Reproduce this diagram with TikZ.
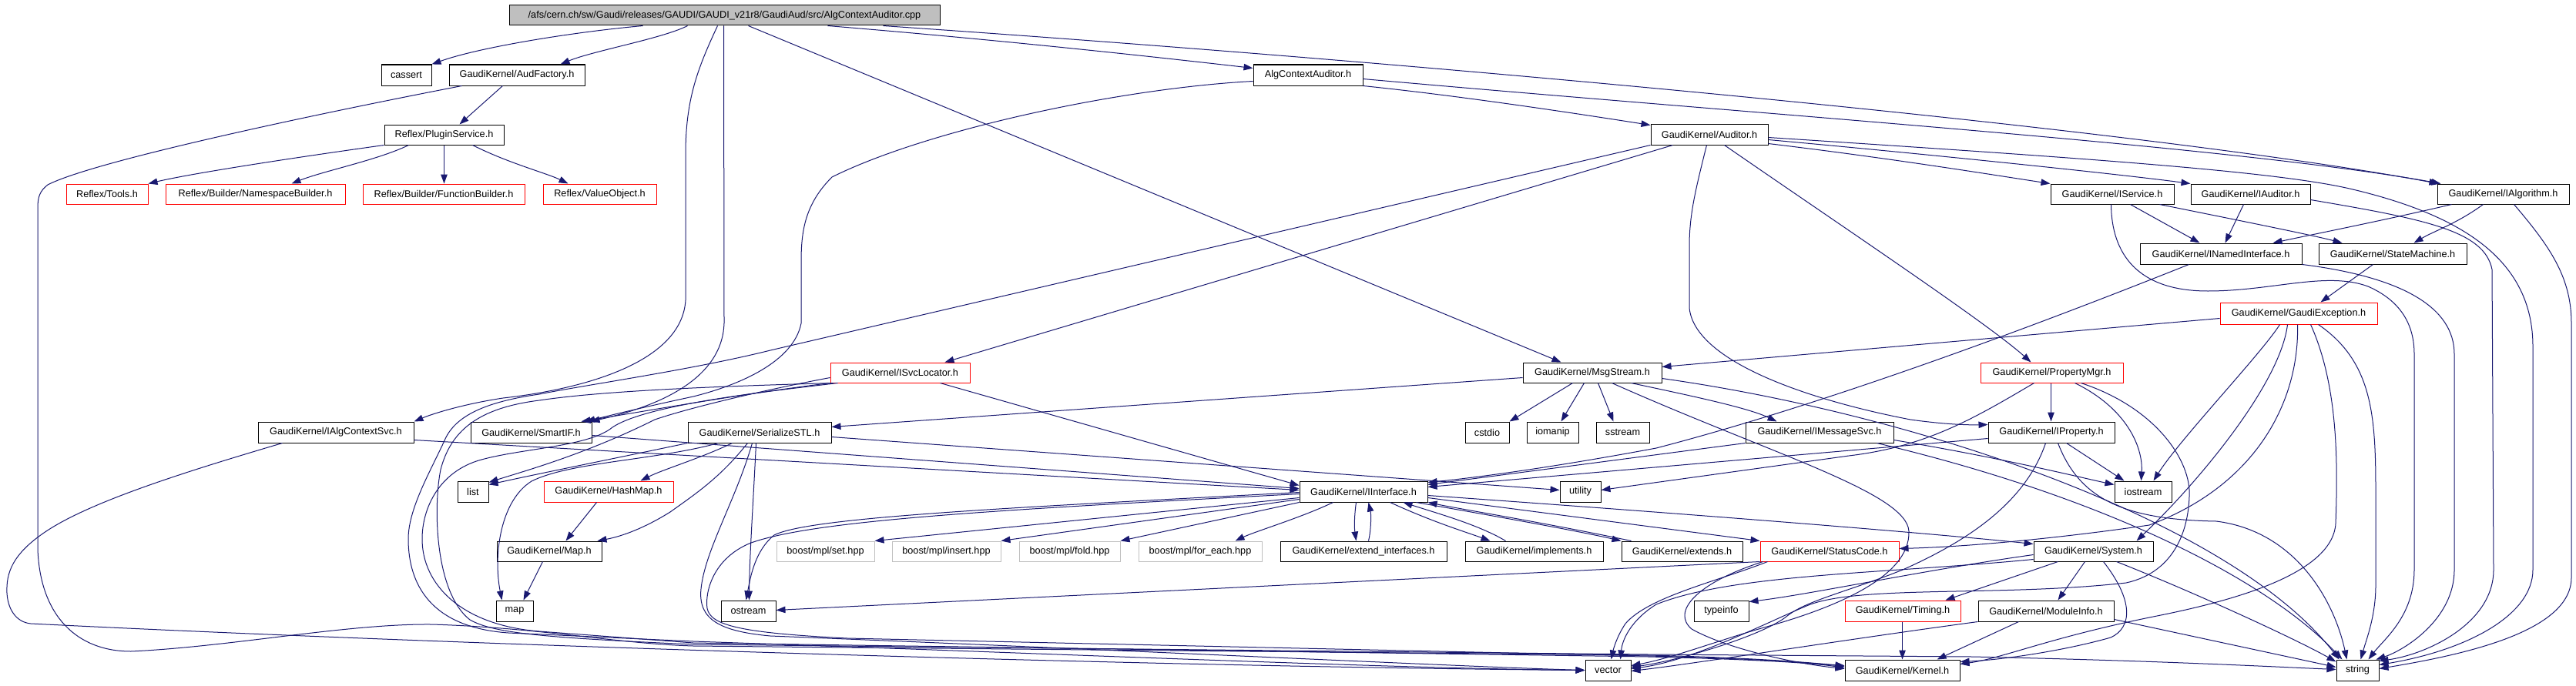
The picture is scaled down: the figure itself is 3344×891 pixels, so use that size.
\documentclass[tikz,border=0pt]{standalone}
\usepackage{fontspec}
\setmainfont{Liberation Sans}
\usetikzlibrary{arrows.meta,calc}
\definecolor{edgec}{HTML}{191970}
\definecolor{greyb}{HTML}{BFBFBF}
\newcommand\nd[7][]{%
 \pgfmathsetmacro\ndw{#4-#3}\pgfmathsetmacro\ndh{#6-#5}%
 \pgfmathsetmacro\ndx{(#3+#4)/2}\pgfmathsetmacro\ndy{(#5+#6)/2}%
 \node[nbox,#1,minimum width=\ndw pt,minimum height=\ndh pt] (#2) at (\ndx,\ndy) {#7};}
\begin{document}
\begin{tikzpicture}[x=1pt,y=-1pt,
 nbox/.style={draw=black,line width=1pt,inner sep=0pt,font=\fontsize{12.7}{15}\selectfont,text=black},
 nred/.style={draw=red},
 ngray/.style={draw=greyb},
 nmain/.style={fill=greyb},
 edg/.style={draw=edgec,line width=1pt,-{Triangle[length=12pt,width=8.5pt]}}]
\fill[white] (0,0) rectangle (3344,891);
\useasboundingbox (0,0) rectangle (3344,891);

\nd[nmain]{main}{661}{1220}{7}{33}{/afs/cern.ch/sw/Gaudi/releases/GAUDI/GAUDI\_v21r8/GaudiAud/src/AlgContextAuditor.cpp}
\nd{cassert}{495}{560}{84}{111}{cassert}
\nd{audf}{583}{759}{84}{111}{GaudiKernel/AudFactory.h}
\nd{acah}{1627}{1769}{84}{111}{AlgContextAuditor.h}
\nd{plugin}{499}{654}{162}{188}{Reflex/PluginService.h}
\nd{auditor}{2143}{2295}{161}{188}{GaudiKernel/Auditor.h}
\nd[nred]{tools}{86}{192}{239}{265}{Reflex/Tools.h}
\nd[nred]{nsb}{215}{448}{239}{265}{Reflex/Builder/NamespaceBuilder.h}
\nd[nred]{fnb}{471}{681}{239}{265}{Reflex/Builder/FunctionBuilder.h}
\nd[nred]{vobj}{705}{852}{239}{265}{Reflex/ValueObject.h}
\nd{isvc}{2662}{2822}{239}{265}{GaudiKernel/IService.h}
\nd{iaud}{2844}{2999}{239}{265}{GaudiKernel/IAuditor.h}
\nd{ialg}{3164}{3335}{239}{265}{GaudiKernel/IAlgorithm.h}
\nd{inamed}{2778}{2988}{316}{343}{GaudiKernel/INamedInterface.h}
\nd{statem}{3010}{3202}{316}{343}{GaudiKernel/StateMachine.h}
\nd[nred]{gexc}{2882}{3086}{393}{421}{GaudiKernel/GaudiException.h}
\nd[nred]{isvcloc}{1078}{1259}{471}{497}{GaudiKernel/ISvcLocator.h}
\nd{msgs}{1977}{2157}{471}{497}{GaudiKernel/MsgStream.h}
\nd[nred]{propmgr}{2571}{2756}{471}{497}{GaudiKernel/PropertyMgr.h}
\nd{iacs}{335}{537}{548}{575}{GaudiKernel/IAlgContextSvc.h}
\nd{smartif}{611}{768}{548}{575}{GaudiKernel/SmartIF.h}
\nd{serial}{893}{1079}{548}{575}{GaudiKernel/SerializeSTL.h}
\nd{cstdio}{1902}{1959}{548}{575}{cstdio}
\nd{iomanip}{1982}{2049}{548}{575}{iomanip}
\nd{sstream}{2072}{2141}{548}{575}{sstream}
\nd{imsg}{2266}{2458}{548}{575}{GaudiKernel/IMessageSvc.h}
\nd{iprop}{2581}{2745}{548}{575}{GaudiKernel/IProperty.h}
\nd{list}{594}{634}{625}{652}{list}
\nd[nred]{hashmap}{706}{874}{625}{652}{GaudiKernel/HashMap.h}
\nd{iint}{1687}{1853}{625}{652}{GaudiKernel/IInterface.h}
\nd{utility}{2025}{2078}{625}{652}{utility}
\nd{iostream}{2745}{2819}{625}{652}{iostream}
\nd{mapH}{645}{781}{703}{729}{GaudiKernel/Map.h}
\nd[ngray]{mset}{1008}{1135}{703}{729}{boost/mpl/set.hpp}
\nd[ngray]{mins}{1158}{1299}{703}{729}{boost/mpl/insert.hpp}
\nd[ngray]{mfold}{1323}{1454}{703}{729}{boost/mpl/fold.hpp}
\nd[ngray]{mfe}{1478}{1638}{703}{729}{boost/mpl/for\_each.hpp}
\nd{extif}{1662}{1878}{703}{729}{GaudiKernel/extend\_interfaces.h}
\nd{impl}{1902}{2081}{703}{729}{GaudiKernel/implements.h}
\nd{exts}{2105}{2262}{703}{729}{GaudiKernel/extends.h}
\nd[nred]{sc}{2285}{2465}{703}{729}{GaudiKernel/StatusCode.h}
\nd{sys}{2640}{2795}{703}{729}{GaudiKernel/System.h}
\nd{map}{644}{692}{780}{807}{map}
\nd{ostream}{936}{1007}{780}{807}{ostream}
\nd{typeinfo}{2199}{2270}{780}{807}{typeinfo}
\nd[nred]{timing}{2395}{2545}{780}{807}{GaudiKernel/Timing.h}
\nd{modinfo}{2568}{2744}{780}{807}{GaudiKernel/ModuleInfo.h}
\nd{vector}{2058}{2117}{857}{884}{vector}
\nd{kernel}{2395}{2544}{857}{884}{GaudiKernel/Kernel.h}
\nd{string}{3033}{3088}{857}{884}{string}

% main
\draw[edg] ($(main.south west)+(174,0)$) .. controls (740,42) and (620,62) .. (cassert.north east);
\draw[edg] ($(main.south west)+(232,0)$) .. controls (860,50) and (770,66) .. ($(audf.north west)+(145,0)$);
\draw[edg] ($(main.south west)+(414,0)$) .. controls (1300,52) and (1500,74) .. ($(acah.north west)+(0,5)$);
\draw[edg] ($(main.south west)+(486,0)$) .. controls (1900,85) and (2800,170) .. ($(ialg.north west)+(2,0)$);
\draw[edg] ($(main.south west)+(311,0)$) -- ($(msgs.north west)+(50,0)$);
\draw[edg] ($(main.south west)+(279,0)$) -- (940,420) .. controls (938,480) and (880,522) .. ($(smartif.north east)+(-2,0)$);
\draw[edg] ($(main.south west)+(271,0)$) .. controls (905,90) and (890,130) .. (890,200) -- (890,390) .. controls (885,470) and (760,505) .. (653,517) .. controls (600,525) and (560,538) .. (iacs.north east);
% audfactory
\draw[edg] ($(audf.south west)+(70,0)$) -- ($(plugin.north west)+(98,0)$);
\draw[edg] ($(audf.south west)+(17,0)$) .. controls (400,150) and (120,210) .. (62,240) .. controls (52,248) and (49,255) .. (49,270) -- (49,713) .. controls (52,800) and (100,846) .. (170,846) .. controls (300,840) and (450,810) .. (560,811) .. controls (700,815) and (800,836) .. (900,839) -- (2140,851) .. controls (2300,855) and (2360,862) .. ($(kernel.north west)+(0,8)$);
% plugin
\draw[edg] (plugin.south west) .. controls (380,205) and (250,225) .. (tools.north east);
\draw[edg] ($(plugin.south west)+(32,0)$) .. controls (490,208) and (420,222) .. ($(nsb.north west)+(164,0)$);
\draw[edg] ($(plugin.south west)+(78,0)$) -- ($(fnb.north west)+(106,0)$);
\draw[edg] ($(plugin.south west)+(115,0)$) .. controls (660,212) and (710,225) .. ($(vobj.north west)+(33,0)$);
% AlgContextAuditor.h
\draw[edg] (acah.south east) .. controls (1900,125) and (2050,148) .. ($(auditor.north west)+(0,2)$);
\draw[edg] ($(acah.north east)+(0,19)$) .. controls (2300,150) and (2900,190) .. ($(ialg.north west)+(5,0)$);
\draw[edg] ($(acah.north west)+(0,22)$) .. controls (1450,115) and (1200,170) .. (1080,230) .. controls (1045,265) and (1040,300) .. (1040,340) -- (1040,420) .. controls (1030,470) and (960,500) .. (900,515) .. controls (830,530) and (790,540) .. ($(smartif.north east)+(-8,0)$);
% Auditor.h
\draw[edg] ($(auditor.north east)+(0,26)$) .. controls (2450,205) and (2580,226) .. (isvc.north west);
\draw[edg] ($(auditor.north east)+(0,21)$) .. controls (2500,200) and (2750,226) .. (iaud.north west);
\draw[edg] ($(auditor.north east)+(0,18)$) .. controls (2700,205) and (2950,222) .. (3050,245) .. controls (3200,280) and (3288,340) .. (3288,450) -- (3288,740) .. controls (3288,800) and (3200,845) .. ($(string.north east)+(0,7)$);
\draw[edg] ($(auditor.south west)+(73,0)$) .. controls (2200,250) and (2193,280) .. (2193,320) -- (2193,400) .. controls (2200,470) and (2350,520) .. (2480,545) .. controls (2530,552) and (2560,552) .. ($(iprop.north west)+(0,4)$);
\draw[edg] ($(auditor.south west)+(96,0)$) .. controls (2400,300) and (2580,420) .. ($(propmgr.north west)+(66,0)$);
\draw[edg] ($(auditor.south west)+(29,0)$) -- ($(isvcloc.north west)+(149,0)$);
\draw[edg] (auditor.south west) -- (1000,455) .. controls (900,480) and (760,500) .. (700,512) .. controls (630,522) and (592,540) .. (578,570) .. controls (560,610) and (530,660) .. (530,700) .. controls (530,760) and (560,815) .. (660,822) -- (900,833) .. controls (1400,850) and (1800,868) .. (vector.west);
% IAlgContextSvc
\draw[edg] ($(iacs.north east)+(0,24)$) -- ($(iint.north west)+(0,12)$);
\draw[edg] ($(iacs.south west)+(32,0)$) .. controls (250,610) and (120,650) .. (60,690) .. controls (15,720) and (8,745) .. (9,770) .. controls (10,790) and (20,808) .. (40,810) .. controls (600,838) and (1500,866) .. (vector.west);
% ISvcLocator
\draw[edg] (isvcloc.south west) .. controls (960,512) and (850,532) .. ($(smartif.north east)+(-14,0)$);
\draw[edg] ($(isvcloc.south west)+(143,0)$) -- ($(iint.north west)+(0,6)$);
\draw[edg] ($(isvcloc.north west)+(0,20)$) .. controls (1000,505) and (900,528) .. (850,545) .. controls (760,590) and (680,612) .. ($(list.north east)+(0,2)$);
\draw[edg] ($(isvcloc.south west)+(10,0)$) .. controls (1000,508) and (840,525) .. (795,555) .. controls (765,580) and (680,582) .. (625,597) .. controls (570,612) and (548,660) .. (548,700) .. controls (548,760) and (600,812) .. (700,820) -- (900,835) -- (2140,853) .. controls (2300,857) and (2360,862) .. ($(kernel.north west)+(0,11)$);
\draw[edg] ($(isvcloc.south west)+(4,0)$) .. controls (920,502) and (780,508) .. (700,520) .. controls (620,530) and (585,560) .. (572,610) .. controls (562,660) and (565,770) .. (610,805) .. controls (640,822) and (700,828) .. (900,837) -- (2140,850) -- (2560,853) .. controls (2800,858) and (2950,866) .. ($(string.north west)+(0,13)$);
% SerializeSTL
\draw[edg] (serial.south west) .. controls (800,595) and (700,615) .. ($(list.north east)+(0,5)$);
\draw[edg] ($(serial.south west)+(58,0)$) .. controls (910,595) and (860,610) .. ($(hashmap.north west)+(126,0)$);
\draw[edg] ($(serial.south west)+(78,0)$) .. controls (935,620) and (905,640) .. (870,665) .. controls (830,690) and (800,698) .. ($(mapH.north east)+(-6,0)$);
\draw[edg] ($(serial.south west)+(40,0)$) .. controls (850,598) and (740,600) .. (690,625) .. controls (650,650) and (640,720) .. ($(map.north west)+(8,0)$);
\draw[edg] ($(serial.south west)+(89,0)$) .. controls (978,650) and (973,720) .. ($(ostream.north west)+(37,0)$);
\draw[edg] ($(serial.south west)+(84,0)$) .. controls (955,650) and (915,715) .. (910,765) .. controls (906,805) and (935,820) .. (1000,826) .. controls (1500,846) and (1900,866) .. (vector.west);
\draw[edg] ($(serial.north east)+(0,20)$) -- ($(utility.north west)+(0,12)$);
% HashMap, Map, SmartIF
\draw[edg] ($(hashmap.south west)+(69,0)$) -- ($(mapH.north west)+(90,0)$);
\draw[edg] ($(mapH.south west)+(60,0)$) -- ($(map.north west)+(36,0)$);
\draw[edg] ($(smartif.north east)+(0,18)$) -- ($(iint.north west)+(0,10)$);
% MsgStream
\draw[edg] ($(msgs.south west)+(65,0)$) -- (cstdio.north east);
\draw[edg] ($(msgs.south west)+(80,0)$) -- ($(iomanip.north west)+(45,0)$);
\draw[edg] ($(msgs.south west)+(98,0)$) -- ($(sstream.north west)+(23,0)$);
\draw[edg] ($(msgs.south west)+(141,0)$) .. controls (2200,515) and (2270,530) .. ($(imsg.north west)+(41,0)$);
\draw[edg] ($(msgs.north west)+(0,20)$) -- ($(serial.north east)+(0,7)$);
\draw[edg] ($(msgs.north east)+(0,21)$) .. controls (2500,540) and (2900,680) .. ($(string.north west)+(4,0)$);
\draw[edg] ($(msgs.south west)+(116,0)$) .. controls (2300,590) and (2475,640) .. (2478,690) .. controls (2480,750) and (2380,790) .. (2290,815) .. controls (2230,832) and (2170,855) .. ($(vector.north east)+(0,8)$);
% IMessageSvc
\draw[edg] (imsg.south west) -- ($(iint.north east)+(0,5)$);
\draw[edg] ($(imsg.north east)+(0,24)$) .. controls (2600,595) and (2700,620) .. ($(iostream.north west)+(0,5)$);
\draw[edg] ($(imsg.south west)+(171,0)$) .. controls (2750,650) and (2950,760) .. ($(string.north west)+(8,0)$);
% IProperty
\draw[edg] ($(iprop.north west)+(0,22)$) -- ($(iint.north east)+(0,8)$);
\draw[edg] ($(iprop.south west)+(102,0)$) -- ($(iostream.north west)+(13,0)$);
\draw[edg] ($(iprop.south west)+(91,0)$) .. controls (2700,650) and (2760,675) .. (2877,677) .. controls (2980,690) and (3030,780) .. ($(string.north west)+(14,0)$);
\draw[edg] ($(iprop.south west)+(75,0)$) .. controls (2630,650) and (2560,700) .. (2470,740) .. controls (2400,768) and (2345,780) .. (2320,800) .. controls (2290,825) and (2180,858) .. ($(vector.north east)+(0,10)$);
% PropertyMgr
\draw[edg] ($(propmgr.south west)+(92,0)$) -- ($(iprop.north west)+(82,0)$);
\draw[edg] ($(propmgr.south west)+(123,0)$) .. controls (2760,530) and (2782,580) .. ($(iostream.north west)+(35,0)$);
\draw[edg] ($(propmgr.south west)+(70,0)$) .. controls (2560,545) and (2500,580) .. (2400,592) -- ($(utility.north east)+(0,12)$);
\draw[edg] ($(propmgr.south west)+(131,0)$) .. controls (2800,530) and (2845,600) .. (2842,645) .. controls (2840,700) and (2815,745) .. (2760,757) .. controls (2600,775) and (2420,760) .. (2350,785) .. controls (2300,805) and (2200,858) .. ($(vector.north east)+(0,12)$);
% INamedInterface
\draw[edg] ($(inamed.south west)+(64,0)$) .. controls (2600,440) and (2350,530) .. (2150,582) .. controls (2000,610) and (1900,622) .. ($(iint.north east)+(0,2)$);
\draw[edg] (inamed.south east) .. controls (3120,360) and (3186,400) .. (3186,460) -- (3186,740) .. controls (3186,805) and (3120,845) .. ($(string.north west)+(52,0)$);
% IService
\draw[edg] ($(isvc.south west)+(104,0)$) -- ($(inamed.north west)+(78,0)$);
\draw[edg] ($(isvc.south west)+(142,0)$) .. controls (2900,285) and (3000,305) .. ($(statem.north west)+(31,0)$);
\draw[edg] ($(isvc.south west)+(79,0)$) .. controls (2741,330) and (2775,378) .. (2866,378) .. controls (2950,378) and (3020,352) .. (3074,372) .. controls (3115,390) and (3134,420) .. (3134,460) -- (3134,740) .. controls (3134,800) and (3095,830) .. ($(string.north west)+(42,0)$);
% IAuditor
\draw[edg] ($(iaud.south west)+(69,0)$) -- ($(inamed.north west)+(111,0)$);
\draw[edg] ($(iaud.north east)+(0,21)$) .. controls (3150,285) and (3225,300) .. (3235,350) -- (3237,740) .. controls (3237,810) and (3150,850) .. ($(string.north east)+(0,2)$);
% IAlgorithm
\draw[edg] ($(ialg.south west)+(19,0)$) .. controls (3100,285) and (3000,305) .. ($(inamed.north west)+(173,0)$);
\draw[edg] ($(ialg.south west)+(60,0)$) .. controls (3190,290) and (3160,300) .. ($(statem.north west)+(124,0)$);
\draw[edg] ($(ialg.south west)+(100,0)$) .. controls (3310,320) and (3338,360) .. (3338,420) -- (3338,750) .. controls (3338,820) and (3200,850) .. ($(string.north east)+(0,12)$);
% StateMachine
\draw[edg] ($(statem.south west)+(71,0)$) -- ($(gexc.north west)+(131,0)$);
% GaudiException
\draw[edg] ($(gexc.north west)+(0,21)$) -- ($(msgs.north east)+(0,6)$);
\draw[edg] ($(gexc.south west)+(78,0)$) .. controls (2935,460) and (2830,570) .. ($(iostream.north east)+(-24,0)$);
\draw[edg] ($(gexc.south west)+(88,0)$) .. controls (2960,500) and (2850,630) .. ($(sys.north west)+(134,0)$);
\draw[edg] ($(gexc.south west)+(101,0)$) .. controls (2985,520) and (2930,630) .. (2790,682) .. controls (2680,698) and (2560,710) .. ($(sc.north east)+(0,10)$);
\draw[edg] ($(gexc.south west)+(118,0)$) .. controls (3035,500) and (3035,600) .. (3032,680) .. controls (3028,745) and (2900,780) .. (2800,800) .. controls (2660,828) and (2600,855) .. ($(kernel.north east)+(0,6)$);
\draw[edg] ($(gexc.south west)+(128,0)$) .. controls (3080,470) and (3084,540) .. (3084,640) -- (3084,760) .. controls (3084,800) and (3072,830) .. ($(string.north west)+(32,0)$);
% IInterface
\draw[edg] ($(iint.south west)+(74,0)$) .. controls (1758,670) and (1758,685) .. ($(extif.north west)+(99,0)$);
\draw[edg] ($(extif.north west)+(115,0)$) .. controls (1780,688) and (1780,668) .. ($(iint.south west)+(90,0)$);
\draw[edg] ($(iint.south west)+(118,0)$) .. controls (1860,678) and (1900,690) .. ($(impl.north west)+(33,0)$);
\draw[edg] ($(impl.north west)+(53,0)$) .. controls (1920,682) and (1870,668) .. ($(iint.south west)+(135,0)$);
\draw[edg] ($(iint.south east)+(-15,0)$) .. controls (1950,672) and (2050,690) .. (exts.north west);
\draw[edg] ($(exts.north west)+(13,0)$) .. controls (2000,678) and (1900,662) .. (iint.south east);
\draw[edg] ($(iint.north east)+(0,22)$) -- (sc.north west);
\draw[edg] ($(iint.north east)+(0,19)$) .. controls (2200,668) and (2500,692) .. ($(sys.north west)+(0,4)$);
\draw[edg] ($(iint.north west)+(0,22)$) -- (mset.north east);
\draw[edg] ($(iint.north west)+(0,24)$) -- (mins.north east);
\draw[edg] (iint.south west) -- (mfold.north east);
\draw[edg] ($(iint.south west)+(44,0)$) .. controls (1690,672) and (1630,690) .. ($(mfe.north west)+(126,0)$);
\draw[edg] ($(iint.north west)+(0,15)$) .. controls (1300,660) and (1050,672) .. (1005,695) .. controls (980,715) and (974,750) .. ($(ostream.north west)+(33,0)$);
\draw[edg] ($(iint.north west)+(0,17)$) .. controls (1300,662) and (1060,675) .. (975,705) .. controls (925,725) and (915,770) .. (918,790) .. controls (922,812) and (960,822) .. (1100,829) -- (2140,852) .. controls (2300,856) and (2360,862) .. ($(kernel.north west)+(0,9)$);
% StatusCode
\draw[edg] (sc.south west) -- ($(ostream.north east)+(0,13)$);
\draw[edg] ($(sc.south west)+(4,0)$) .. controls (2200,758) and (2170,795) .. (2196,817) .. controls (2240,842) and (2330,862) .. ($(kernel.north west)+(0,12)$);
\draw[edg] ($(sc.south west)+(10,0)$) .. controls (2230,755) and (2140,775) .. (2110,810) .. controls (2098,828) and (2094,845) .. ($(vector.north west)+(34,0)$);
% System
\draw[edg] ($(sys.north west)+(0,24)$) .. controls (2450,745) and (2250,745) .. (2150,785) .. controls (2118,805) and (2106,830) .. ($(vector.north west)+(46,0)$);
\draw[edg] ($(sys.north west)+(0,18)$) .. controls (2500,740) and (2350,772) .. ($(typeinfo.north east)+(0,2)$);
\draw[edg] ($(sys.south west)+(32,0)$) -- ($(timing.north east)+(-20,0)$);
\draw[edg] ($(sys.south west)+(67,0)$) -- ($(modinfo.north west)+(104,0)$);
\draw[edg] ($(sys.south west)+(91,0)$) .. controls (2770,780) and (2768,815) .. (2740,828) .. controls (2680,845) and (2600,857) .. ($(kernel.north east)+(0,3)$);
\draw[edg] ($(sys.south west)+(108,0)$) .. controls (2850,770) and (2980,830) .. ($(string.north west)+(0,3)$);
% ModuleInfo, Timing
\draw[edg] ($(modinfo.south west)+(53,0)$) -- ($(kernel.north east)+(-30,0)$);
\draw[edg] ($(modinfo.north east)+(0,25)$) -- ($(string.north west)+(0,10)$);
\draw[edg] (modinfo.south west) .. controls (2400,830) and (2200,862) .. ($(vector.north east)+(0,15)$);
\draw[edg] ($(timing.south west)+(75,0)$) -- ($(kernel.north west)+(75,0)$);
\end{tikzpicture}
\end{document}
